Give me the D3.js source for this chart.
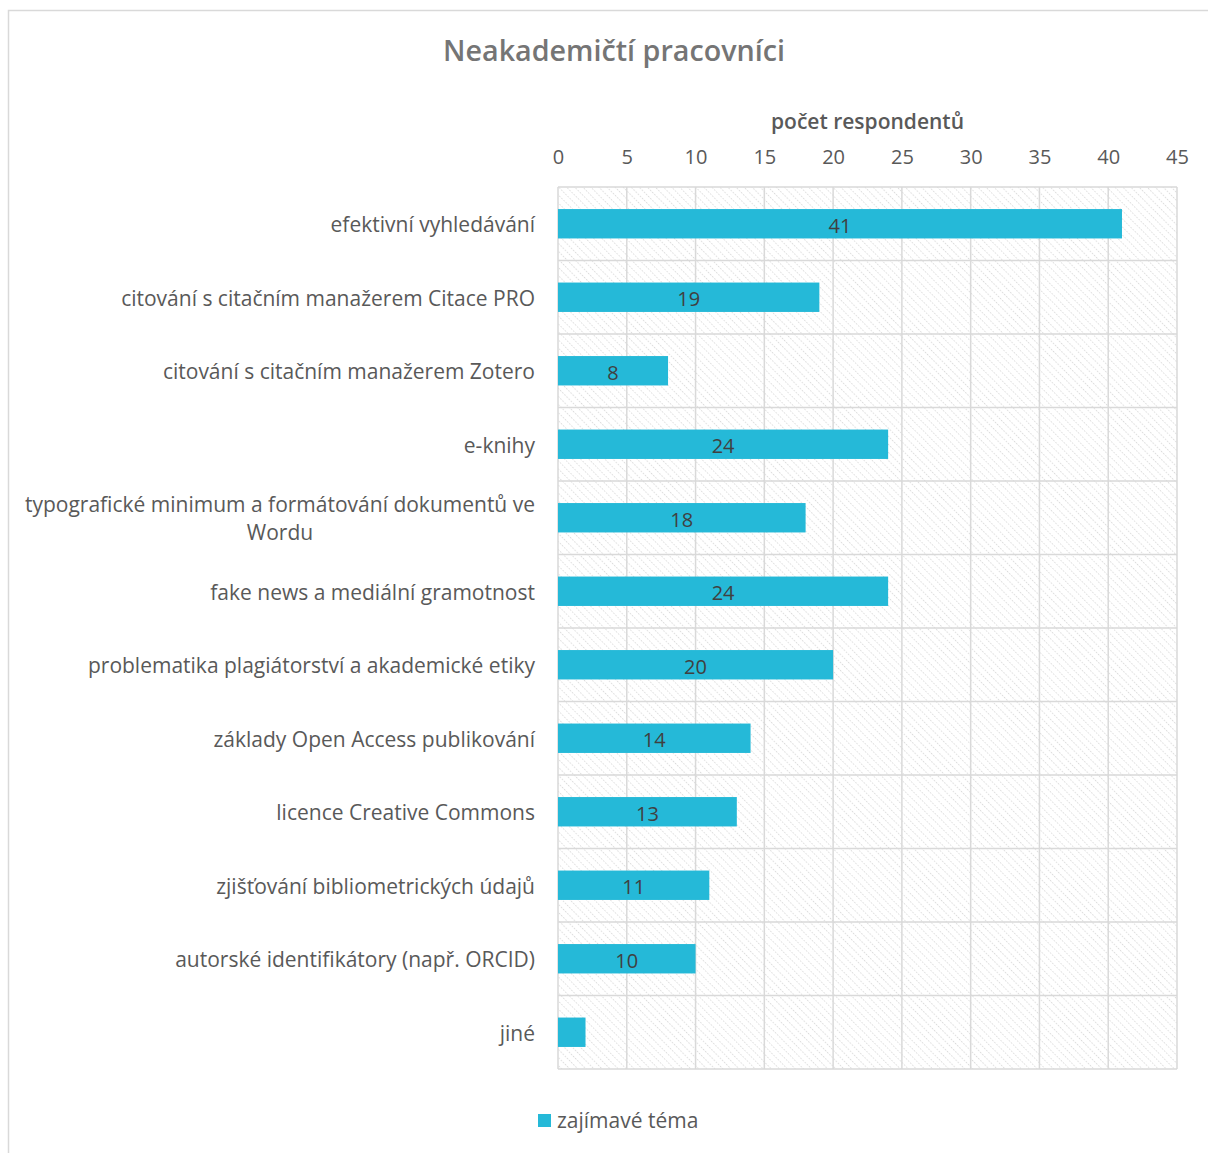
<!DOCTYPE html>
<html><head><meta charset="utf-8">
<script src="https://cdn.jsdelivr.net/npm/d3@7"></script>
<style>html,body{margin:0;padding:0;background:#fff;}svg{display:block;}</style>
</head><body>
<script>
const categories = [
  "efektivní vyhledávání",
  "citování s citačním manažerem Citace PRO",
  "citování s citačním manažerem Zotero",
  "e-knihy",
  "typografické minimum a formátování dokumentů ve Wordu",
  "fake news a mediální gramotnost",
  "problematika plagiátorství a akademické etiky",
  "základy Open Access publikování",
  "licence Creative Commons",
  "zjišťování bibliometrických údajů",
  "autorské identifikátory (např. ORCID)",
  "jiné"
];
const values = [41, 19, 8, 24, 18, 24, 20, 14, 13, 11, 10, 2];
const showLabel = [true, true, true, true, true, true, true, true, true, true, true, false];
const tickValues = [0, 5, 10, 15, 20, 25, 30, 35, 40, 45];
const seriesName = "zajímavé téma";
const title = "Neakademičtí pracovníci";
const axisTitle = "počet respondentů";

const W = 1208, H = 1153;
const FONT = "'Open Sans', sans-serif";
const barColor = "#25B9D8";
const gridColor = "#d9d9d9";
const textColor = "#595959";

const svg = d3.select("body").append("svg").attr("width", W).attr("height", H);

// outer frame
svg.append("rect").attr("x", 8.5).attr("y", 10.5).attr("width", W + 10).attr("height", H + 10)
  .attr("fill", "#fff").attr("stroke", "#d9d9d9").attr("stroke-width", 1.5);

const plot = {left: 558, right: 1177, top: 187, bottom: 1069};

const x = d3.scaleLinear().domain([0, 45]).range([plot.left, plot.right]);
const y = d3.scaleBand().domain(categories).range([plot.top, plot.bottom]).paddingInner(0.6).paddingOuter(0.3);
const yb = d3.scaleBand().domain(categories).range([plot.top, plot.bottom]);

// hatch pattern
const defs = svg.append("defs");
const pat = defs.append("pattern").attr("id", "hatch").attr("patternUnits", "userSpaceOnUse")
  .attr("width", 5.7).attr("height", 6).attr("patternTransform", "rotate(-45)");
pat.append("line").attr("x1", 0).attr("y1", 0).attr("x2", 0).attr("y2", 6)
  .attr("stroke", "#d2d2d2").attr("stroke-width", 1.5).attr("stroke-dasharray", "1.5,1.5");

svg.append("rect").attr("x", plot.left).attr("y", plot.top)
  .attr("width", plot.right - plot.left).attr("height", plot.bottom - plot.top)
  .attr("fill", "url(#hatch)");

// vertical gridlines
svg.append("g").selectAll("line").data(tickValues).join("line")
  .attr("x1", d => x(d)).attr("x2", d => x(d))
  .attr("y1", plot.top).attr("y2", plot.bottom)
  .attr("stroke", gridColor).attr("stroke-width", 1.5);

// horizontal category separators
const seps = categories.map(c => yb(c)).concat([plot.bottom]);
svg.append("g").selectAll("line").data(seps).join("line")
  .attr("x1", plot.left).attr("x2", plot.right)
  .attr("y1", d => d).attr("y2", d => d)
  .attr("stroke", gridColor).attr("stroke-width", 1.5);

// top axis
const axis = d3.axisTop(x).tickValues(tickValues).tickSize(0).tickPadding(0);
const ag = svg.append("g").attr("transform", `translate(0,${164})`).call(axis);
ag.select(".domain").remove();
ag.selectAll("text").attr("font-family", FONT).attr("font-size", 20).attr("fill", textColor);

// bars
svg.append("g").selectAll("rect").data(values).join("rect")
  .attr("x", x(0)).attr("y", (d, i) => y(categories[i]))
  .attr("width", d => x(d) - x(0)).attr("height", y.bandwidth())
  .attr("fill", barColor);

// data labels
const lg = svg.append("g");
values.forEach((v, i) => {
  if (!showLabel[i]) return;
  lg.append("text").attr("x", (x(0) + x(v)) / 2)
    .attr("y", y(categories[i]) + y.bandwidth() / 2 + 2)
    .attr("dy", "0.35em").attr("text-anchor", "middle")
    .attr("font-family", FONT).attr("font-size", 20).attr("fill", "#404040")
    .text(v);
});

// category labels
const cg = svg.append("g");
const LFS = 21;
categories.forEach((c, i) => {
  const cy = yb(c) + yb.bandwidth() / 2 + 1;
  if (c.startsWith("typografické")) {
    const lines = ["typografické minimum a formátování dokumentů ve", "Wordu"];
    const tmp = cg.append("text").attr("font-family", FONT).attr("font-size", LFS).text(lines[0]);
    const w = tmp.node().getComputedTextLength(); tmp.remove();
    const cx = 535 - w / 2;
    const t = cg.append("text").attr("text-anchor", "middle")
      .attr("font-family", FONT).attr("font-size", LFS).attr("fill", textColor);
    lines.forEach((l, k) => {
      t.append("tspan").attr("x", cx).attr("y", cy + (k - 0.5) * 28).attr("dy", "0.35em").text(l);
    });
  } else {
    cg.append("text").attr("x", 535).attr("y", cy).attr("dy", "0.35em")
      .attr("text-anchor", "end").attr("font-family", FONT).attr("font-size", LFS)
      .attr("fill", textColor).text(c);
  }
});

// title
svg.append("text").attr("x", 614).attr("y", 51).attr("dy", "0.35em").attr("text-anchor", "middle")
  .attr("font-family", FONT).attr("font-size", 28.7).attr("font-weight", 600).attr("fill", "#757575").text(title);

// axis title
svg.append("text").attr("x", (plot.left + plot.right) / 2).attr("y", 122).attr("dy", "0.35em")
  .attr("text-anchor", "middle").attr("font-family", FONT).attr("font-size", 21)
  .attr("font-weight", 600).attr("fill", textColor).text(axisTitle);

// legend
svg.append("rect").attr("x", 538).attr("y", 1114).attr("width", 13).attr("height", 13).attr("fill", barColor);
svg.append("text").attr("x", 557).attr("y", 1121).attr("dy", "0.35em")
  .attr("font-family", FONT).attr("font-size", 21).attr("fill", textColor).text(seriesName);
</script>
</body></html>
